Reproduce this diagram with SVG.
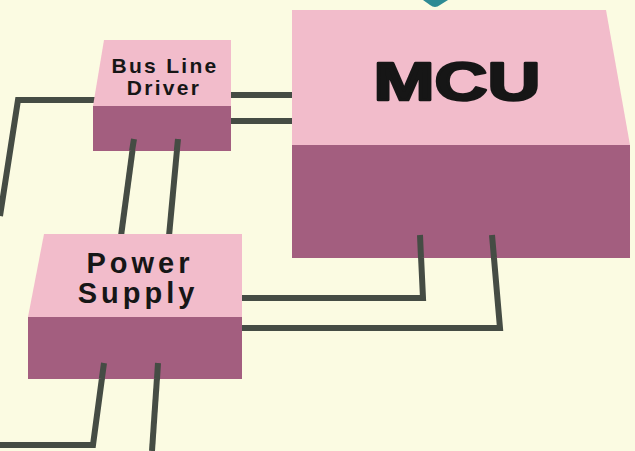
<svg xmlns="http://www.w3.org/2000/svg" width="635" height="451" viewBox="0 0 635 451">
<style>
.top{fill:#f2bccb}
.front{fill:#a35e7f}
.wire{fill:none;stroke:#454c44;stroke-width:6;stroke-linejoin:miter;stroke-linecap:butt}
.lbl{font-family:"Liberation Sans",Arial,sans-serif;font-weight:bold;fill:#161616;text-anchor:middle}
</style>
<rect x="0" y="0" width="635" height="451" fill="#fbfbe2"/>
<g id="connectors">
<polyline class="wire" points="96,100 18,100 0,216"/>
<line class="wire" x1="230" y1="95" x2="293" y2="95"/>
<line class="wire" x1="230" y1="121" x2="293" y2="121"/>
<line class="wire" x1="134" y1="139" x2="121" y2="236"/>
<line class="wire" x1="178" y1="139" x2="169" y2="236"/>
<polyline class="wire" points="420,235 423,298 240,298"/>
<polyline class="wire" points="492,235 500,328 240,328"/>
<polyline class="wire" points="104,363 93,445 0,445"/>
<line class="wire" x1="158" y1="363" x2="152" y2="451"/>
</g>
<g id="arrow">
<path d="M423,0 L448,0 L440,5 Q435,9 430,5 Z" fill="#2e8b94"/>
</g>
<g id="mcu">
<polygon class="top" points="292,10 606,10 630,145 292,145"/>
<rect class="front" x="292" y="145" width="338" height="113"/>
<path d="M420,235 L421,258 M492,235 L494,258" class="wire"/>
<text class="lbl" x="457" y="100" font-size="53" textLength="167" lengthAdjust="spacingAndGlyphs" stroke="#161616" stroke-width="2.5" stroke-linejoin="round">MCU</text>
</g>
<g id="bus-line-driver">
<polygon class="top" points="104,40 231,40 231,106 93,106"/>
<rect class="front" x="93" y="106" width="138" height="45"/>
<path d="M134,139 L132,151 M178,139 L176.8,151" class="wire"/>
<text class="lbl" x="165" y="73" font-size="21" letter-spacing="2.3">Bus Line</text>
<text class="lbl" x="164" y="95" font-size="21" letter-spacing="2.3">Driver</text>
</g>
<g id="power-supply">
<polygon class="top" points="44,234 242,234 242,317 28,317"/>
<rect class="front" x="28" y="317" width="214" height="62"/>
<path d="M104,363 L101.8,379 M158,363 L157,379" class="wire"/>
<text class="lbl" x="140" y="273" font-size="29" letter-spacing="4">Power</text>
<text class="lbl" x="138" y="303" font-size="29" letter-spacing="4">Supply</text>
</g>
</svg>
